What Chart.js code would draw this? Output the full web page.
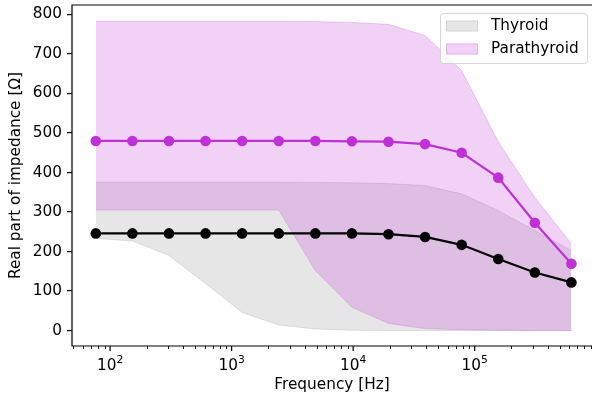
<!DOCTYPE html>
<html>
<head>
<meta charset="utf-8">
<script src="https://cdn.jsdelivr.net/npm/chart.js@4.4.0/dist/chart.umd.min.js"></script>
<style>
  html, body { margin: 0; padding: 0; background: #fff; overflow: hidden; }
  #wrap { width: 592px; height: 401px; }
</style>
</head>
<body>
<div id="wrap"><canvas id="chart" width="592" height="401"></canvas></div>
<script>
// frequencies (Hz), halving down from 625 kHz
const freqs = [76.29, 152.59, 305.18, 610.35, 1220.7, 2441.41, 4882.81, 9765.63, 19531.25, 39062.5, 78125, 156250, 312500, 625000];

const thyroidMean  = [246, 246, 246, 246, 246, 246, 246, 246, 244, 237, 217, 181, 147, 122];
const thyroidUpper = [376, 376, 376, 376, 376, 376, 375, 374, 372, 367, 346, 304, 253, 203];
const thyroidLower = [233, 227, 190, 119, 46, 14, 4, 1, 0, 0, 0, 0, 0, 0];

const paraMean  = [480, 480, 480, 480, 480, 480, 480, 479, 478, 472, 450, 387, 273, 169];
const paraUpper = [783, 783, 783, 783, 783, 783, 782, 780, 775, 747, 658, 478, 337, 220];
const paraLower = [305, 305, 305, 305, 305, 305, 152, 59, 18, 5, 2, 1, 0, 0];

const seriesNames = ["Thyroid", "Parathyroid"];
const yTicks = [0, 100, 200, 300, 400, 500, 600, 700, 800];
const xTicks = [100, 1000, 10000, 100000];
const xTickExp = ["2", "3", "4", "5"];

const FONT = "'DejaVu Sans', sans-serif";
const FS = 15.3;
const PARA = "#bf30d6";
const PARA_FILL = "rgba(191,48,214,0.22)";
const THY_FILL = "rgba(128,128,128,0.2)";

const pts = arr => freqs.map((f, i) => ({ x: f, y: arr[i] }));

function band(arr, color, fill, order) {
  return {
    data: pts(arr),
    borderColor: color,
    backgroundColor: color,
    borderWidth: 1,
    pointRadius: 0,
    fill: fill,
    order: order
  };
}

// ticks, spines, x labels with exponents, legend
const decor = {
  id: "decor",
  afterDraw(chart) {
    const { ctx, chartArea: a, scales: { x } } = chart;
    ctx.save();
    ctx.strokeStyle = "#000";

    ctx.lineWidth = 0.9;
    for (let k = 1; k <= 6; k++) {
      for (let m = 2; m <= 9; m++) {
        const v = m * Math.pow(10, k);
        if (v < x.min || v > x.max) continue;
        const px = Math.round(x.getPixelForValue(v)) + 0.5;
        ctx.beginPath();
        ctx.moveTo(px, a.bottom);
        ctx.lineTo(px, a.bottom + 3);
        ctx.stroke();
      }
    }

    ctx.lineWidth = 1.2;
    ctx.fillStyle = "#000";
    ctx.textAlign = "left";
    ctx.textBaseline = "alphabetic";
    xTicks.forEach((v, i) => {
      const px = x.getPixelForValue(v);
      ctx.beginPath();
      ctx.moveTo(px, a.bottom);
      ctx.lineTo(px, a.bottom + 5);
      ctx.stroke();
      ctx.font = FS + "px " + FONT;
      const wb = ctx.measureText("10").width;
      ctx.font = (FS * 0.7) + "px " + FONT;
      const we = ctx.measureText(xTickExp[i]).width;
      const left = px - (wb + we) / 2;
      ctx.font = FS + "px " + FONT;
      ctx.fillText("10", left, a.bottom + 23.5);
      ctx.font = (FS * 0.7) + "px " + FONT;
      ctx.fillText(xTickExp[i], left + wb, a.bottom + 17);
    });

    // spines: left, bottom, top (right one lies just past the crop)
    ctx.beginPath();
    ctx.moveTo(a.right, a.top);
    ctx.lineTo(a.left, a.top);
    ctx.lineTo(a.left, a.bottom);
    ctx.lineTo(a.right, a.bottom);
    ctx.stroke();

    // legend
    const bx = 440.5, by = 13.5, bw = 147, bh = 50, r = 3;
    ctx.beginPath();
    ctx.moveTo(bx + r, by);
    ctx.arcTo(bx + bw, by, bx + bw, by + bh, r);
    ctx.arcTo(bx + bw, by + bh, bx, by + bh, r);
    ctx.arcTo(bx, by + bh, bx, by, r);
    ctx.arcTo(bx, by, bx + bw, by, r);
    ctx.closePath();
    ctx.fillStyle = "rgba(255,255,255,0.8)";
    ctx.fill();
    ctx.strokeStyle = "rgba(204,204,204,0.8)";
    ctx.lineWidth = 1;
    ctx.stroke();

    const fills = [THY_FILL, PARA_FILL];
    const rows = [26, 49];
    seriesNames.forEach((name, i) => {
      ctx.fillStyle = fills[i];
      ctx.strokeStyle = fills[i];
      ctx.fillRect(446, rows[i] - 5.5, 32, 11);
      ctx.strokeRect(446.5, rows[i] - 5, 31, 10);
      ctx.fillStyle = "#000";
      ctx.font = FS + "px " + FONT;
      ctx.textBaseline = "middle";
      ctx.fillText(name, 491, rows[i]);
    });
    ctx.restore();
  }
};

new Chart(document.getElementById("chart"), {
  type: "line",
  data: {
    datasets: [
      {
        label: seriesNames[1],
        data: pts(paraMean),
        borderColor: PARA,
        backgroundColor: PARA,
        borderWidth: 2.2,
        pointRadius: 5.3,
        pointBorderWidth: 0,
        fill: false,
        order: 0
      },
      {
        label: seriesNames[0],
        data: pts(thyroidMean),
        borderColor: "#000",
        backgroundColor: "#000",
        borderWidth: 2.2,
        pointRadius: 5.3,
        pointBorderWidth: 0,
        fill: false,
        order: 1
      },
      band(paraUpper, PARA_FILL, "+1", 2),
      band(paraLower, PARA_FILL, false, 3),
      band(thyroidUpper, THY_FILL, "+1", 4),
      band(thyroidLower, THY_FILL, false, 5)
    ]
  },
  options: {
    responsive: false,
    animation: false,
    events: [],
    layout: { autoPadding: false, padding: { left: 0, right: 0, top: 5, bottom: 0 } },
    plugins: {
      legend: { display: false },
      tooltip: { enabled: false }
    },
    scales: {
      x: {
        type: "logarithmic",
        min: 48.6,
        max: 923000,
        border: { display: false },
        grid: { display: false },
        ticks: { display: false },
        afterBuildTicks: s => { s.ticks = xTicks.map(v => ({ value: v })); },
        afterFit: s => { s.height = 55; s.paddingLeft = 0; s.paddingRight = 0; },
        title: {
          display: true,
          text: "Frequency [Hz]",
          color: "#000",
          font: { family: FONT, size: FS },
          padding: { top: 0, bottom: 7 }
        }
      },
      y: {
        min: -39,
        max: 824,
        border: { display: false },
        grid: { display: true, drawOnChartArea: false, drawTicks: true, tickLength: 5, color: "#000", lineWidth: 1.2 },
        ticks: { color: "#000", font: { family: FONT, size: FS }, padding: 5 },
        afterBuildTicks: s => { s.ticks = yTicks.map(v => ({ value: v })); },
        afterFit: s => { s.width = 72; s.paddingTop = 0; s.paddingBottom = 0; },
        title: {
          display: true,
          text: "Real part of impedance [Ω]",
          color: "#000",
          font: { family: FONT, size: FS },
          padding: { top: 7, bottom: 0 }
        }
      }
    }
  },
  plugins: [decor]
});
</script>
</body>
</html>
